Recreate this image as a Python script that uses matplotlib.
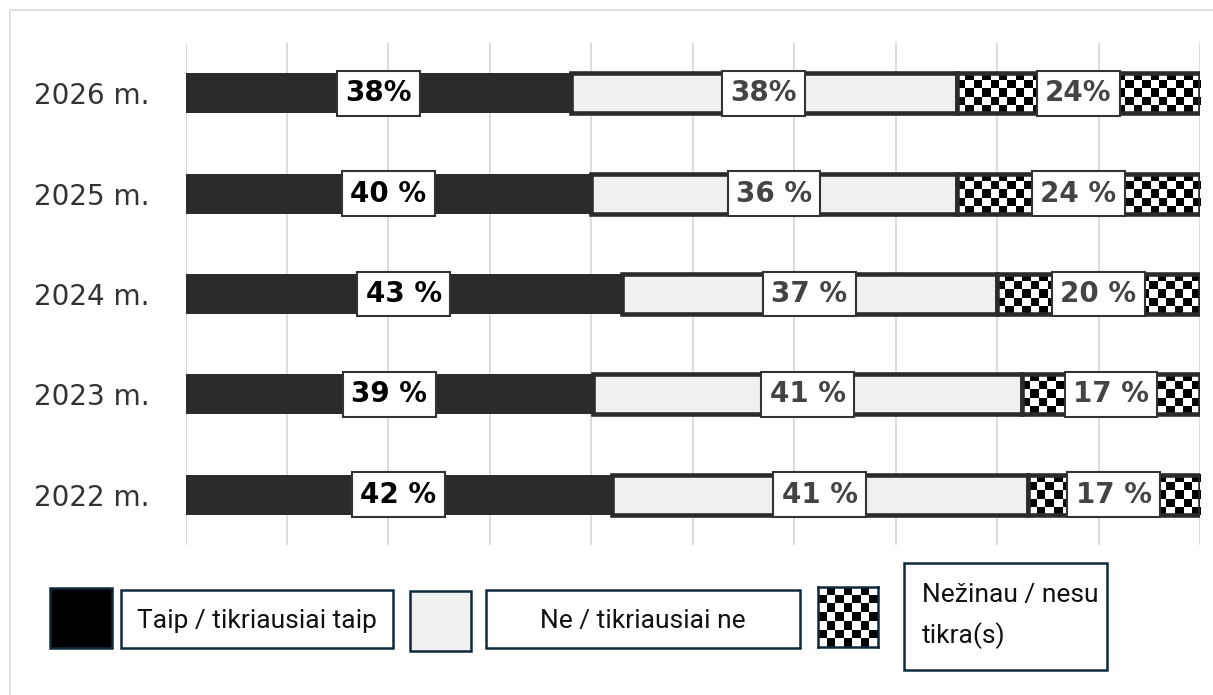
import numpy as np
import matplotlib.pyplot as plt
import matplotlib.transforms as mtransforms
from matplotlib.patches import Rectangle
from matplotlib.lines import Line2D

# ---- data ----
years = ['2026 m.', '2025 m.', '2024 m.', '2023 m.', '2022 m.']
yes_vals = [38, 40, 43, 39, 42]
no_vals = [38, 36, 37, 41, 41]
unsure_vals = [24, 24, 20, 17, 17]
pct_sep = ['', ' ', ' ', ' ', ' ']   # 2026 label is written without the space
series_names = ['Taip / tikriausiai taip', 'Ne / tikriausiai ne',
                'Nežinau / nesu\ntikra(s)']

# ---- style ----
W, H = 1213, 695
DARK = '#2b2b2b'
LIGHT = '#f0f0f0'
NAVY = '#0e2a3a'
CELL = 8.5          # checker cell size in px
label_colors = ['#000000', '#444444', '#444444']


def checker(nr, nc):
    return (np.add.outer(np.arange(nr), np.arange(nc)) % 2).astype(float)


fig = plt.figure(figsize=(W / 100, H / 100), dpi=100)
# pixel coords, origin top-left
pix = mtransforms.Affine2D().scale(1 / W, -1 / H).translate(0, 1) + fig.transFigure

# light frame, only top/left edges visible
fig.add_artist(Line2D([10, W], [10, 10], transform=pix, color='#dcdcdc', lw=1.3))
fig.add_artist(Line2D([10, 10], [10, H], transform=pix, color='#dcdcdc', lw=1.3))

ax = fig.add_axes([185.5 / W, 150 / H, 1014.5 / W, 502 / H])

n = len(years)
y = np.arange(n)
tot = np.array(yes_vals) + np.array(no_vals) + np.array(unsure_vals)
vals = [yes_vals, no_vals, unsure_vals]
shares = [np.array(v) / tot * 100 for v in vals]

ax.set_xlim(0, 100)
ax.set_ylim(n - 0.5, -0.5)
ax.set_xticks(np.arange(0, 101, 10))
ax.set_xticklabels([])
ax.tick_params(axis='x', length=0)
ax.grid(axis='x', color='#d9d9d9', lw=1.3)
ax.set_axisbelow(True)
for s in ax.spines.values():
    s.set_visible(False)
ax.set_yticks(y)
ax.set_yticklabels(years, fontsize=20, color='#333333')
ax.tick_params(axis='y', length=0, pad=26)

starts = []
left = np.zeros(n)
starts.append(left.copy())
ax.barh(y, shares[0], left=left, height=0.4, color=DARK, lw=0, zorder=1)
left = left + shares[0]
starts.append(left.copy())
ax.barh(y, shares[1], left=left, height=0.4, color=LIGHT, edgecolor=DARK, lw=3.3, zorder=1)
left = left + shares[1]
starts.append(left.copy())
b3 = ax.barh(y, shares[2], left=left, height=0.4, facecolor='none', edgecolor=DARK,
             lw=3.3, zorder=1.2)

# checker fill for the "unsure" segments
boxes = []
for p in b3.patches:
    x0, y0, w, h = p.get_x(), p.get_y(), p.get_width(), p.get_height()
    (px0, py0), (px1, py1) = ax.transData.transform([(x0, y0), (x0 + w, y0 + h)])
    nc = max(1, round(abs(px1 - px0) / CELL))
    nr = max(1, round(abs(py1 - py0) / CELL))
    boxes.append((x0, w, y0, h, nr, nc))
for x0, w, y0, h, nr, nc in boxes:
    ax.imshow(checker(nr, nc), cmap='gray_r', extent=(x0, x0 + w, y0 + h, y0),
              aspect='auto', interpolation='nearest', zorder=1.1)
ax.set_xlim(0, 100)
ax.set_ylim(n - 0.5, -0.5)

# value labels
for k in range(3):
    for i in range(n):
        ax.text(starts[k][i] + shares[k][i] / 2, y[i], f'{vals[k][i]}{pct_sep[i]}%',
                ha='center', va='center', fontsize=20, fontweight='bold',
                color=label_colors[k], zorder=5,
                bbox=dict(boxstyle='square,pad=0.3', fc='white', ec='#333333', lw=1.5))

# ---- legend (custom boxes) ----
fig.add_artist(Rectangle((50, 588), 62, 60, transform=pix, fc='black', ec=NAVY, lw=1.8))
fig.add_artist(Rectangle((410, 591), 61, 60, transform=pix, fc=LIGHT, ec=NAVY, lw=1.8))
lax = fig.add_axes([818 / W, 1 - 647 / H, 60 / W, 60 / H])
lax.imshow(checker(7, 7), cmap='gray_r', aspect='auto', interpolation='nearest')
lax.set_xticks([])
lax.set_yticks([])
for s in lax.spines.values():
    s.set_color(NAVY)
    s.set_linewidth(1.8)

fig.add_artist(Rectangle((121, 590), 272, 58, transform=pix, fc='white', ec=NAVY, lw=1.8))
fig.add_artist(Rectangle((486, 590), 314, 58, transform=pix, fc='white', ec=NAVY, lw=1.8))
fig.add_artist(Rectangle((904, 563), 203, 107, transform=pix, fc='white', ec=NAVY, lw=1.8))
fig.text(257, 621, series_names[0], transform=pix, ha='center', va='center',
         fontsize=19, family='Roboto', color='#111111')
fig.text(643, 621, series_names[1], transform=pix, ha='center', va='center',
         fontsize=19, family='Roboto', color='#111111')
fig.text(922, 616, series_names[2], transform=pix, ha='left', va='center',
         fontsize=19, family='Roboto', color='#111111', linespacing=1.7)

fig.savefig('out.png', dpi=100)
